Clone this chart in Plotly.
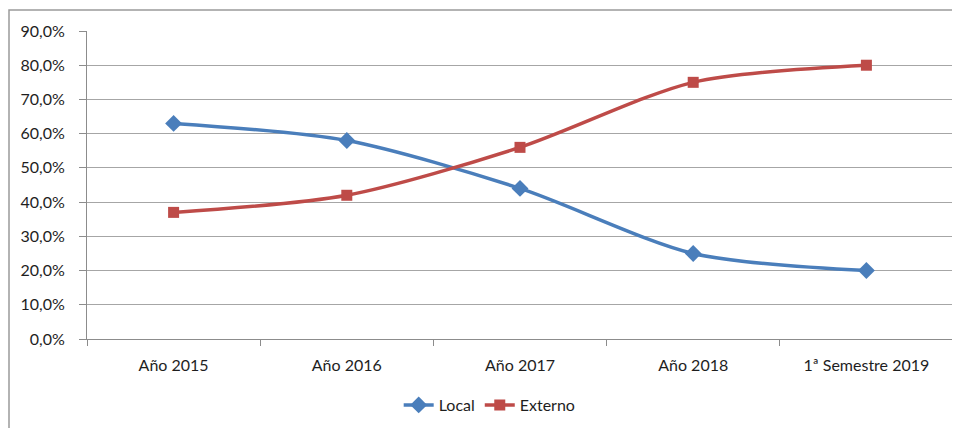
import plotly.graph_objects as go

categories = ["Año 2015", "Año 2016", "Año 2017", "Año 2018", "1ª Semestre 2019"]
local_vals = [0.63, 0.58, 0.44, 0.25, 0.20]
externo_vals = [0.37, 0.42, 0.56, 0.75, 0.80]
y_ticks = [0, 0.1, 0.2, 0.3, 0.4, 0.5, 0.6, 0.7, 0.8, 0.9]
y_tick_labels = ["0,0%", "10,0%", "20,0%", "30,0%", "40,0%", "50,0%", "60,0%", "70,0%", "80,0%", "90,0%"]

fig = go.Figure()
fig.add_trace(go.Scatter(
    x=categories, y=local_vals, name="Local", mode="lines+markers",
    line=dict(color="#4A7EBB", width=3.5, shape="spline", smoothing=0.8),
    marker=dict(symbol="diamond", size=13, color="#4A7EBB"),
))
fig.add_trace(go.Scatter(
    x=categories, y=externo_vals, name="Externo", mode="lines+markers",
    line=dict(color="#BE4B48", width=3.5, shape="spline", smoothing=0.8),
    marker=dict(symbol="square", size=11, color="#BE4B48"),
))

# page has an 8px body margin, so the figure is sized/offset to compensate
W, H = 952, 420
L, R, T, B = 79, 7, 23, 89
pw, ph = W - L - R, H - T - B

fig.add_shape(type="rect", xref="paper", yref="paper",
              x0=(1 - L) / pw, x1=(W + 20 - L) / pw,
              y0=(H - B - (H + 20)) / ph, y1=(H - B - 2) / ph,
              line=dict(color="#9A9A9A", width=1.5), layer="below")

fig.update_layout(
    width=W, height=H,
    margin=dict(l=L, r=R, t=T, b=B, autoexpand=False),
    paper_bgcolor="white", plot_bgcolor="white",
    font=dict(family="Lato, Noto Sans, sans-serif", size=16, color="#1E1E1E"),
    showlegend=True,
    legend=dict(orientation="h", x=0.465, xanchor="center",
                y=(H - B - 397) / ph, yanchor="middle",
                font=dict(size=16)),
    xaxis=dict(type="category", tickson="boundaries", ticks="outside", ticklen=6,
               tickcolor="#8C8C8C", showline=True, linecolor="#8C8C8C", linewidth=1,
               showgrid=False, tickfont=dict(size=16), range=[-0.5, 4.5],
               ticklabelstandoff=12),
    yaxis=dict(range=[0, 0.9], tickvals=y_ticks, ticktext=y_tick_labels,
               ticks="outside", ticklen=7, tickcolor="#8C8C8C",
               showline=True, linecolor="#8C8C8C", linewidth=1,
               showgrid=True, gridcolor="#A6A6A6", gridwidth=1,
               zeroline=False, tickfont=dict(size=16), ticklabelstandoff=11),
)

fig.write_html("out.html")
